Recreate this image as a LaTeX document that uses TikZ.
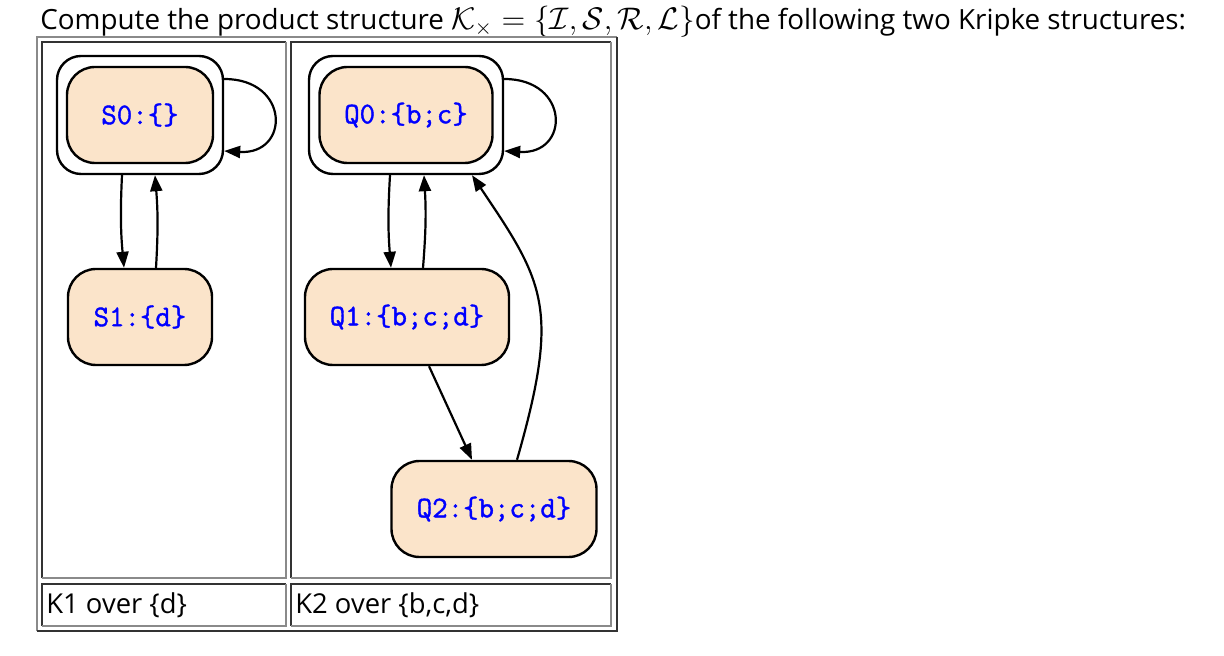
\RequirePackage{fix-cm}
\documentclass[tikz,border=0pt]{standalone}
\usepackage{fontspec}
\setmainfont{Open Sans}
\newfontfamily\statefont{Latin Modern Mono}[FakeBold=1.3]
\usepackage{tikz}
\usetikzlibrary{arrows.meta,positioning}
\definecolor{stateFill}{HTML}{FBE4CA}
\definecolor{cellDark}{HTML}{333333}
\definecolor{cellLight}{HTML}{8A8A8A}

\begin{document}
\begin{tikzpicture}[x=0.5pt,y=0.5pt,>={Triangle[length=8pt,width=6pt]}]
  \tikzstyle{state} = [draw, line width=1.2pt, fill=stateFill, rectangle, rounded corners=14pt, minimum height=48pt, text=blue, font={\statefont\fontsize{15}{18}\selectfont}];
  \tikzstyle{initRing} = [draw, line width=1.2pt, fill=white, rectangle, rounded corners=12pt, minimum height=59pt];
  \tikzstyle{stateEdge} = [line width=1.1pt,->];
  \tikzstyle{cellLabel} = [anchor=west, inner sep=0pt, font={\fontsize{13.7}{16}\selectfont}];
  \useasboundingbox (0,0) rectangle (1224,-656);

  % title line
  \node[cellLabel, name=title, font={\fontsize{13.9}{16}\selectfont}] at (40,-22) {Compute the product structure {\fontsize{15.6}{18}\selectfont$\mathcal{K}_\times = \{\mathcal{I}, \mathcal{S}, \mathcal{R}, \mathcal{L}\}$}of the following two Kripke structures:};

  % table frame and cells
  \draw[cellLight, line width=1pt] (37,-631) -- (37,-37) -- (617,-37);
  \draw[cellDark, line width=1pt] (617,-37) -- (617,-631) -- (37,-631);
  \foreach \xa/\ya/\xb/\yb in {42/42/286/578, 291/42/611/578, 42/584/286/626, 291/584/611/626} {
    \draw[cellDark, line width=1pt] (\xa,-\yb) -- (\xa,-\ya) -- (\xb,-\ya);
    \draw[cellLight, line width=1pt] (\xb,-\ya) -- (\xb,-\yb) -- (\xa,-\yb);
  }
  \node[cellLabel, name=capK1] at (46,-605) {K1 over \{d\}};
  \node[cellLabel, name=capK2] at (295,-605) {K2 over \{b,c,d\}};

  % K1
  \node[initRing, name=S0o, minimum width=83pt] at (140,-115) {};
  \node[state, name=S0, minimum width=73pt] at (140,-115) {S0:\{\}};
  \node[state, name=S1, minimum width=72pt] at (140,-317) {S1:\{d\}};

  % K2
  \node[initRing, name=Q0o, minimum width=97pt] at (406,-115) {};
  \node[state, name=Q0, minimum width=86.5pt] at (406,-115) {Q0:\{b;c\}};
  \node[state, name=Q1, minimum width=102pt] at (407,-317) {Q1:\{b;c;d\}};
  \node[state, name=Q2, minimum width=102.5pt] at (494,-509) {Q2:\{b;c;d\}};

  \draw[stateEdge] ([yshift=18pt]S0o.east) .. controls +(33pt,0pt) and +(33pt,-2pt) .. ([yshift=-18pt]S0o.east);
  \draw[stateEdge] ([xshift=-9pt]S0o.south) to[bend right=4] ([xshift=-8pt]S1.north);
  \draw[stateEdge] ([xshift=8pt]S1.north) to[bend right=4] ([xshift=7.5pt]S0o.south);

  \draw[stateEdge] ([yshift=18pt]Q0o.east) .. controls +(33pt,0pt) and +(33pt,-2pt) .. ([yshift=-18pt]Q0o.east);
  \draw[stateEdge] ([xshift=-8pt]Q0o.south) to[bend right=4] ([xshift=-8pt]Q1.north);
  \draw[stateEdge] ([xshift=8pt]Q1.north) to[bend right=4] ([xshift=9pt]Q0o.south);
  \draw[stateEdge] ([xshift=11pt]Q1.south) -- ([xshift=-11pt]Q2.north);
  \draw[stateEdge] ([xshift=11.5pt]Q2.north) to[out=74,in=-56,out looseness=1.4,in looseness=1.15] ([xshift=33pt]Q0o.south);
\end{tikzpicture}
\end{document}
